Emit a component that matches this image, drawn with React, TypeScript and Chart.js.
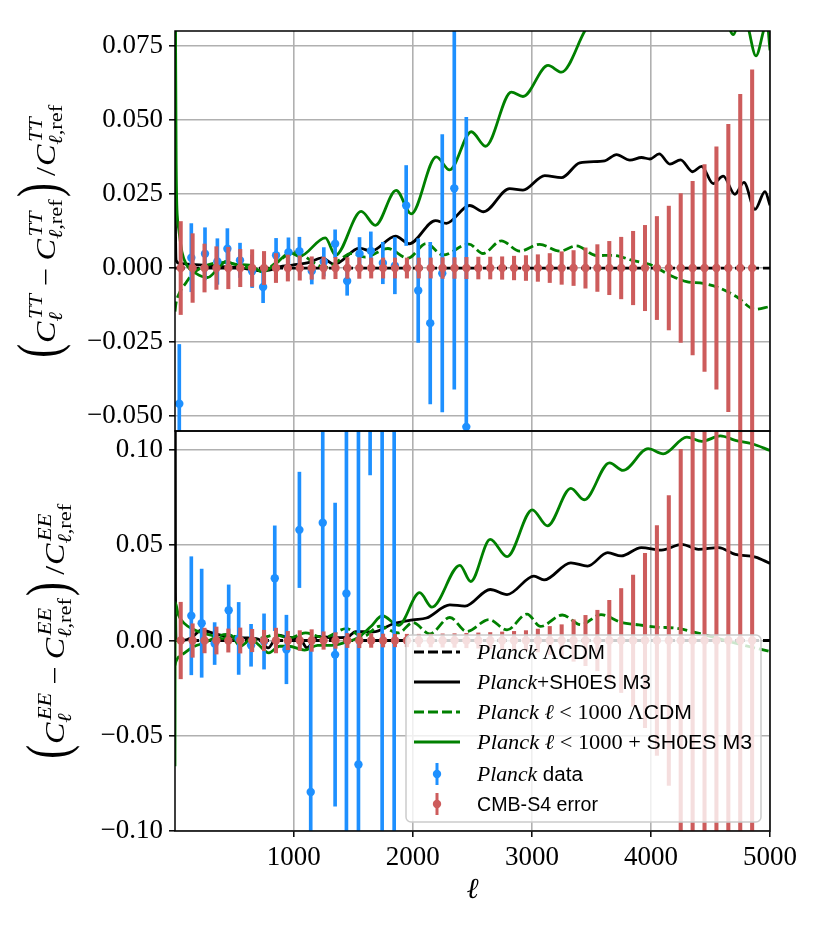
import React, { useEffect, useRef } from "react";
import { Chart, registerables } from "chart.js";

Chart.register(...registerables);

// ---------------- data ----------------
const xTicks = [1000, 2000, 3000, 4000, 5000];
const ttTicks = [-0.05, -0.025, 0, 0.025, 0.05, 0.075];
const eeTicks = [-0.1, -0.05, 0, 0.05, 0.1];

// TT residual curves [ell, value]
const ttPlanckLCDM: [number, number][] = [[2, 0], [5000, 0]];
const ttPlanckM3: [number, number][] = [
  [2, 0.12], [6, 0.015], [12, 0.0025], [38, 0.0016], [234, 0.001], [430, 0.0004], [570, 0.0],
  [710, -0.0009], [794, -0.0007], [878, 0.0004], [990, 0.001], [1131, 0.0019], [1235, 0.0034],
  [1341, 0.0013], [1552, 0.0067], [1650, 0.0057], [1855, 0.0108], [1968, 0.0082], [2190, 0.016],
  [2281, 0.0151], [2477, 0.0211], [2594, 0.019], [2813, 0.0268], [2925, 0.0263], [3108, 0.0312],
  [3248, 0.0305], [3402, 0.0355], [3612, 0.0362], [3711, 0.0383], [3823, 0.0364], [3921, 0.0373],
  [3991, 0.0368], [4069, 0.0385], [4159, 0.0351], [4249, 0.0365], [4350, 0.0325], [4425, 0.0343],
  [4523, 0.0285], [4607, 0.031], [4705, 0.0249], [4781, 0.0289], [4874, 0.0198], [4958, 0.0258],
  [5000, 0.0212],
];
const ttLowLCDM: [number, number][] = [
  [2, -0.0147], [10, -0.012], [38, -0.0085], [94, -0.005], [150, -0.002], [262, 0.0008],
  [417, 0.0019], [543, 0.0009], [650, -0.0003], [735, -0.0011], [823, 0.001], [930, 0.004],
  [995, 0.0055], [1075, 0.0044], [1201, 0.001], [1285, 0.0002], [1383, 0.0027], [1481, 0.0049],
  [1600, 0.0037], [1790, 0.0066], [1958, 0.0033], [2112, 0.0083], [2253, 0.0044], [2470, 0.0081],
  [2589, 0.0049], [2743, 0.0092], [2897, 0.0057], [3066, 0.008], [3234, 0.0057], [3374, 0.0075],
  [3542, 0.0042], [3682, 0.0043], [3851, 0.0025], [3991, 0.0012], [4159, -0.0024], [4299, -0.0046],
  [4440, -0.0052], [4580, -0.0068], [4720, -0.0097], [4874, -0.0139], [5000, -0.013],
];
const ttLowM3: [number, number][] = [
  [2, 0.12], [12, 0.035], [24, 0.016], [32, 0.0135], [60, 0.0055], [100, 0.001], [178, -0.0018],
  [275, -0.0032], [350, -0.0008], [430, 0.0022], [515, 0.0012], [627, 0.001], [735, -0.0013],
  [850, 0.0015], [970, 0.0052], [1047, 0.0039], [1265, 0.0102], [1350, 0.0043], [1566, 0.0191],
  [1685, 0.0144], [1860, 0.0262], [1986, 0.0183], [2197, 0.0375], [2309, 0.0331], [2491, 0.046],
  [2611, 0.0411], [2827, 0.0594], [2925, 0.0579], [3136, 0.0684], [3248, 0.0661], [3444, 0.08],
  [3550, 0.087], [3650, 0.085], [3850, 0.095], [3950, 0.093], [4150, 0.1], [4250, 0.097],
  [4450, 0.1], [4550, 0.093], [4620, 0.086], [4691, 0.0788], [4770, 0.088], [4818, 0.081],
  [4882, 0.0716], [4945, 0.08], [4972, 0.084], [5000, 0.0735],
];

// EE residual curves [ell, value]
const eePlanckLCDM: [number, number][] = [[2, 0], [5000, 0]];
const eePlanckM3: [number, number][] = [
  [2, 0.3], [6, 0.03], [12, 0.0], [60, 0.0], [139, 0.0014], [223, 0.0054], [330, 0.0037],
  [430, 0.0022], [587, 0.0014], [700, 0.0008], [784, -0.0039], [868, 0.0028], [962, 0.0016],
  [1050, 0.0012], [1110, -0.0038], [1204, 0.0022], [1320, 0.0015], [1444, 0.0016], [1520, 0.0047],
  [1668, 0.0045], [1836, 0.0088], [1999, 0.0109], [2114, 0.0118], [2311, 0.0187], [2438, 0.0181],
  [2650, 0.0268], [2791, 0.0241], [3017, 0.0338], [3102, 0.0318], [3327, 0.0408], [3468, 0.0391],
  [3637, 0.0461], [3750, 0.0444], [3919, 0.0488], [4088, 0.0475], [4258, 0.0505], [4399, 0.0479],
  [4568, 0.0488], [4709, 0.0452], [4878, 0.0438], [5000, 0.0405],
];
const eeLowLCDM: [number, number][] = [
  [2, -0.013], [10, -0.011], [83, -0.0065], [167, -0.003], [251, -0.0012], [340, 0.0015],
  [433, 0.0032], [540, 0.0015], [643, 0.0], [740, 0.0015], [850, 0.003], [960, 0.0012],
  [1100, 0.004], [1250, 0.0015], [1440, 0.0062], [1580, 0.002], [1720, 0.0075], [1880, 0.004],
  [2000, 0.0095], [2142, 0.0035], [2311, 0.0121], [2452, 0.0048], [2640, 0.011], [2791, 0.0056],
  [2959, 0.0139], [3073, 0.0074], [3256, 0.0134], [3411, 0.0083], [3580, 0.0136], [3750, 0.0095],
  [3900, 0.0082], [4060, 0.007], [4200, 0.0066], [4286, 0.0056], [4450, 0.003], [4709, -0.0014],
  [5000, -0.0058],
];
const eeLowM3: [number, number][] = [
  [2, -0.066], [4, 0.02], [30, 0.0135], [80, 0.009], [150, 0.006], [230, 0.004], [320, 0.0025],
  [400, 0.001], [470, 0.0028], [550, -0.003], [640, 0.0005], [700, -0.002], [790, -0.0065],
  [880, -0.003], [960, -0.003], [1090, -0.005], [1200, -0.0025], [1320, -0.0025], [1430, -0.001],
  [1540, 0.0015], [1650, 0.0075], [1742, 0.013], [1880, 0.008], [2057, 0.0251], [2160, 0.0175],
  [2395, 0.0395], [2486, 0.031], [2650, 0.0531], [2791, 0.044], [3003, 0.0686], [3130, 0.0602],
  [3327, 0.0799], [3440, 0.0739], [3652, 0.0933], [3765, 0.0893], [3976, 0.1007], [4103, 0.098],
  [4301, 0.1068], [4428, 0.1046], [4583, 0.1074], [4709, 0.1051], [4850, 0.1033], [5000, 0.0998],
];

// Planck binned data
const planckTTEll = [38, 139, 254, 358, 442, 548, 650, 742, 851, 955, 1047, 1151, 1252, 1347, 1448, 1552, 1647, 1748, 1849, 1944, 2045, 2146, 2247, 2348, 2449];
const planckTTVal = [-0.0458, 0.0035, 0.0048, 0.0022, 0.0065, 0.0026, -0.0011, -0.0064, 0.0043, 0.0053, 0.0057, -0.001, 0.0021, 0.0082, -0.0044, 0.0048, 0.0058, 0.0017, 0.0008, 0.0211, -0.0076, -0.0186, -0.0018, 0.0269, -0.0536];
const planckTTErr = [0.02, 0.0115, 0.0088, 0.0077, 0.0068, 0.0058, 0.0055, 0.0053, 0.0057, 0.0049, 0.0047, 0.0044, 0.0048, 0.0047, 0.0048, 0.0055, 0.0064, 0.007, 0.0095, 0.0135, 0.0175, 0.0273, 0.0468, 0.0678, 0.1045];

const planckEEEll = [139, 226, 335, 453, 537, 641, 750, 840, 938, 1047, 1142, 1243, 1347, 1442, 1543, 1641, 1742, 1843];
const planckEEVal = [0.013, 0.0091, -0.0016, 0.0159, 0.0011, -0.0025, -0.0005, 0.0327, -0.0047, 0.0581, -0.0795, 0.0618, -0.0074, 0.0247, -0.0651, 0.19, -0.13, 0.15];
const planckEEErr = [0.031, 0.0284, 0.011, 0.0133, 0.0189, 0.011, 0.0145, 0.0275, 0.018, 0.0303, 0.077, 0.0593, 0.0795, 0.14, 0.19, 0.103, 0.26, 0.3];

// CMB-S4 forecast errors (centred on the reference)
const s4Ell = [50, 150, 250, 350, 450, 550, 650, 750, 850, 950, 1050, 1150, 1250, 1350, 1450, 1550, 1650, 1750, 1850, 1950, 2050, 2150, 2250, 2350, 2450, 2550, 2650, 2750, 2850, 2950, 3050, 3150, 3250, 3350, 3450, 3550, 3650, 3750, 3850, 3950, 4050, 4150, 4250, 4350, 4450, 4550, 4650, 4750, 4850];
const s4ErrTT = [0.0157, 0.0116, 0.0081, 0.0072, 0.007, 0.0063, 0.0062, 0.0056, 0.0049, 0.0044, 0.0041, 0.0038, 0.0037, 0.0036, 0.0035, 0.0035, 0.0034, 0.0034, 0.0034, 0.0034, 0.0034, 0.0034, 0.0035, 0.0035, 0.0036, 0.0037, 0.0037, 0.0038, 0.004, 0.0042, 0.0045, 0.0049, 0.0055, 0.0059, 0.0068, 0.0079, 0.009, 0.0104, 0.0124, 0.0144, 0.0174, 0.0209, 0.0251, 0.0293, 0.0349, 0.0409, 0.0485, 0.0586, 0.0669];
const s4ErrEE = [0.0201, 0.0088, 0.0065, 0.0071, 0.0061, 0.0066, 0.0059, 0.0054, 0.0065, 0.0048, 0.0052, 0.0057, 0.0046, 0.0041, 0.0037, 0.0038, 0.0036, 0.0034, 0.0033, 0.0033, 0.0033, 0.0034, 0.0035, 0.0036, 0.0038, 0.004, 0.0042, 0.0045, 0.0048, 0.0052, 0.006, 0.0074, 0.0083, 0.0109, 0.0132, 0.0159, 0.0211, 0.0273, 0.0344, 0.0458, 0.0603, 0.0761, 0.1004, 0.13, 0.16, 0.2, 0.25, 0.3, 0.36];

// ---------------- styling ----------------
const SERIF = "'Liberation Serif', 'Times New Roman', serif";
const SANS = "'Liberation Sans', Arial, sans-serif";
const BLUE = "#1e90ff";
const RED = "#cd5c5c";
const GREEN = "#008000";
const BLACK = "#000000";
const DASH = [10, 4];
const LW = 2.8;
const DOT_R = 4.2;

const pts = (a: [number, number][]) => a.map(([x, y]) => ({ x, y }));

function lineDs(label: string, arr: [number, number][], color: string, dashed: boolean, yAxisID: string, order: number) {
  return {
    type: "line", label, data: pts(arr), borderColor: color, backgroundColor: color,
    borderWidth: LW, borderDash: dashed ? DASH : [], pointRadius: 0, pointHoverRadius: 0,
    cubicInterpolationMode: "monotone", fill: false, borderJoinStyle: "round",
    xAxisID: "x", yAxisID, order, clip: 0,
  };
}
function barDs(label: string, ell: number[], val: number[], err: number[], color: string, w: number, yAxisID: string, order: number) {
  return {
    type: "bar", label,
    data: ell.map((x, i) => ({ x, y: [val[i] - err[i], val[i] + err[i]] })),
    backgroundColor: color, borderWidth: 0, barThickness: w, grouped: false,
    xAxisID: "x", yAxisID, order, clip: 0,
  };
}
function dotDs(label: string, ell: number[], val: number[], color: string, yAxisID: string, order: number) {
  return {
    type: "scatter", label, data: ell.map((x, i) => ({ x, y: val[i] })),
    pointRadius: DOT_R, pointHoverRadius: DOT_R, pointBackgroundColor: color, pointBorderWidth: 0,
    borderColor: color, backgroundColor: color, showLine: false,
    xAxisID: "x", yAxisID, order, clip: 0,
  };
}

const s4Zero = s4Ell.map(() => 0);

function buildDatasets() {
  return [
    lineDs("Planck ΛCDM", ttPlanckLCDM, BLACK, true, "yTop", 17),
    lineDs("Planck+SH0ES M3", ttPlanckM3, BLACK, false, "yTop", 16),
    lineDs("Planck ℓ < 1000 ΛCDM", ttLowLCDM, GREEN, true, "yTop", 15),
    lineDs("Planck ℓ < 1000 + SH0ES M3", ttLowM3, GREEN, false, "yTop", 14),
    barDs("Planck data", planckTTEll, planckTTVal, planckTTErr, BLUE, 3, "yTop", 13),
    dotDs("Planck data", planckTTEll, planckTTVal, BLUE, "yTop", 12),
    barDs("CMB-S4 error", s4Ell, s4Zero, s4ErrTT, RED, 3.4, "yTop", 11),
    dotDs("CMB-S4 error", s4Ell, s4Zero, RED, "yTop", 10),
    lineDs("Planck ΛCDM", eePlanckLCDM, BLACK, true, "yBot", 7),
    lineDs("Planck+SH0ES M3", eePlanckM3, BLACK, false, "yBot", 6),
    lineDs("Planck ℓ < 1000 ΛCDM", eeLowLCDM, GREEN, true, "yBot", 5),
    lineDs("Planck ℓ < 1000 + SH0ES M3", eeLowM3, GREEN, false, "yBot", 4),
    barDs("Planck data", planckEEEll, planckEEVal, planckEEErr, BLUE, 3, "yBot", 3),
    dotDs("Planck data", planckEEEll, planckEEVal, BLUE, "yBot", 2),
    barDs("CMB-S4 error", s4Ell, s4Zero, s4ErrEE, RED, 3.4, "yBot", 1),
    dotDs("CMB-S4 error", s4Ell, s4Zero, RED, "yBot", 0),
  ];
}

const fmt = (v: number, d: number) => {
  const s = Math.abs(v).toFixed(d);
  return v < -1e-12 ? "\u2212" + s : s;
};

// ---------------- drawing helpers ----------------
type Run = { t: string; f: string };

function runsWidth(ctx: CanvasRenderingContext2D, rs: Run[]) {
  let w = 0;
  for (const r of rs) { ctx.font = r.f; w += ctx.measureText(r.t).width; }
  return w;
}
function drawRuns(ctx: CanvasRenderingContext2D, rs: Run[], x: number, y: number) {
  for (const r of rs) { ctx.font = r.f; ctx.fillText(r.t, x, y); x += ctx.measureText(r.t).width; }
  return x;
}

function drawMathYLabel(ctx: CanvasRenderingContext2D, baseX: number, cy: number, sc: string, F: number, target: number) {
  const S = F * 0.7;
  const iF = `italic ${F}px ${SERIF}`, rF = `${F}px ${SERIF}`;
  const iS = `italic ${S}px ${SERIF}`, rS = `${S}px ${SERIF}`;
  const PX = 1.3;
  const C: any = { k: "run", r: [{ t: "C", f: iF }] };
  const scr1: any = { k: "scr", sup: [{ t: sc, f: iS }], sub: [{ t: "ℓ", f: iS }] };
  const scr2: any = { k: "scr", sup: [{ t: sc, f: iS }], sub: [{ t: "ℓ", f: iS }, { t: ",ref", f: rS }] };
  const items: any[] = [
    { k: "paren", ch: "(" }, C, scr1, { k: "gap", w: 0.22 * F }, { k: "run", r: [{ t: "\u2212", f: rF }] },
    { k: "gap", w: 0.22 * F }, C, scr2, { k: "paren", ch: ")" }, { k: "gap", w: 0.2 * F },
    { k: "run", r: [{ t: "/", f: rF }] }, { k: "gap", w: 0.03 * F }, C, scr2,
  ];
  const wOf = (it: any) => {
    if (it.k === "paren") { ctx.font = rF; return ctx.measureText(it.ch).width * PX + 0.05 * F; }
    if (it.k === "run") return runsWidth(ctx, it.r);
    if (it.k === "scr") return Math.max(runsWidth(ctx, it.sup) + 0.08 * F, runsWidth(ctx, it.sub)) + 0.04 * F;
    return it.w;
  };
  let W = 0;
  for (const it of items) W += wOf(it);
  const hs = target / W;
  ctx.save();
  ctx.translate(baseX, cy);
  ctx.rotate(-Math.PI / 2);
  ctx.scale(hs, 1);
  ctx.fillStyle = "#000";
  ctx.textAlign = "left";
  ctx.textBaseline = "alphabetic";
  let x = -W / 2;
  for (const it of items) {
    const w = wOf(it);
    if (it.k === "paren") {
      ctx.font = rF;
      const m = ctx.measureText(it.ch);
      const asc = m.actualBoundingBoxAscent, desc = m.actualBoundingBoxDescent;
      const top = -1.42 * F, bot = 0.55 * F;
      const sy = (bot - top) / (asc + desc);
      ctx.save();
      ctx.translate(x + 0.025 * F, top + asc * sy);
      ctx.scale(PX, sy);
      ctx.fillText(it.ch, 0, 0);
      ctx.restore();
    } else if (it.k === "run") {
      drawRuns(ctx, it.r, x, 0);
    } else if (it.k === "scr") {
      drawRuns(ctx, it.sup, x + 0.08 * F, -0.45 * F);
      drawRuns(ctx, it.sub, x, 0.24 * F);
    }
    x += w;
  }
  ctx.restore();
}

const LI = `italic 21px ${SERIF}`;
const LR = `21px ${SERIF}`;
const LS = `20px ${SANS}`;
const legendRows: { kind: string; color: string; dash?: boolean; runs: Run[]; target: number }[] = [
  { kind: "line", color: BLACK, dash: true, runs: [{ t: "Planck", f: LI }, { t: " Λ", f: LR }, { t: "CDM", f: LS }], target: 128 },
  { kind: "line", color: BLACK, runs: [{ t: "Planck", f: LI }, { t: "+", f: LR }, { t: "SH0ES M3", f: LS }], target: 174 },
  { kind: "line", color: GREEN, dash: true, runs: [{ t: "Planck ", f: LI }, { t: "ℓ", f: LI }, { t: " < 1000 Λ", f: LR }, { t: "CDM", f: LS }], target: 215 },
  { kind: "line", color: GREEN, runs: [{ t: "Planck ", f: LI }, { t: "ℓ", f: LI }, { t: " < 1000 + ", f: LR }, { t: "SH0ES M3", f: LS }], target: 275 },
  { kind: "err", color: BLUE, runs: [{ t: "Planck", f: LI }, { t: " data", f: LS }], target: 106 },
  { kind: "err", color: RED, runs: [{ t: "CMB-S4 error", f: LS }], target: 121 },
];
const legendRowY = [652, 682, 712, 742, 774, 804];

function drawLegend(ctx: CanvasRenderingContext2D) {
  const x0 = 406, y0 = 635, w = 355, h = 187, r = 5;
  ctx.save();
  ctx.beginPath();
  ctx.moveTo(x0 + r, y0);
  ctx.lineTo(x0 + w - r, y0); ctx.arcTo(x0 + w, y0, x0 + w, y0 + r, r);
  ctx.lineTo(x0 + w, y0 + h - r); ctx.arcTo(x0 + w, y0 + h, x0 + w - r, y0 + h, r);
  ctx.lineTo(x0 + r, y0 + h); ctx.arcTo(x0, y0 + h, x0, y0 + h - r, r);
  ctx.lineTo(x0, y0 + r); ctx.arcTo(x0, y0, x0 + r, y0, r);
  ctx.closePath();
  ctx.fillStyle = "rgba(255,255,255,0.8)";
  ctx.fill();
  ctx.strokeStyle = "#cccccc";
  ctx.lineWidth = 1.5;
  ctx.stroke();

  legendRows.forEach((row, i) => {
    const y = legendRowY[i];
    if (row.kind === "line") {
      ctx.save();
      ctx.strokeStyle = row.color;
      ctx.lineWidth = LW;
      ctx.setLineDash(row.dash ? DASH : []);
      ctx.beginPath();
      ctx.moveTo(414, y); ctx.lineTo(460, y);
      ctx.stroke();
      ctx.restore();
    } else {
      ctx.save();
      ctx.fillStyle = row.color;
      ctx.fillRect(437 - 1.5, y - 11, 3, 22);
      ctx.beginPath();
      ctx.arc(437, y, DOT_R, 0, Math.PI * 2);
      ctx.fill();
      ctx.restore();
    }
    ctx.save();
    ctx.fillStyle = "#000";
    ctx.textAlign = "left";
    ctx.textBaseline = "alphabetic";
    const tw = runsWidth(ctx, row.runs);
    const s = Math.min(1.2, Math.max(0.85, row.target / tw));
    ctx.translate(477, y + 7);
    ctx.scale(s, 1);
    drawRuns(ctx, row.runs, 0, 0);
    ctx.restore();
  });
  ctx.restore();
}

const decorPlugin = {
  id: "decor",
  afterDatasetsDraw(chart: any) {
    const ctx = chart.ctx;
    const { left, right } = chart.chartArea;
    ctx.save();
    ctx.strokeStyle = "#000";
    ctx.lineWidth = 1.5;
    for (const id of ["yTop", "yBot"]) {
      const s = chart.scales[id];
      ctx.strokeRect(left, s.top, right - left, s.bottom - s.top);
    }
    ctx.restore();
  },
  afterDraw(chart: any) {
    const ctx = chart.ctx;
    const top = chart.scales.yTop, bot = chart.scales.yBot;
    drawMathYLabel(ctx, 55, (top.top + top.bottom) / 2, "TT", 28, 255);
    drawMathYLabel(ctx, 64, (bot.top + bot.bottom) / 2, "EE", 28, 257);
    const { left, right } = chart.chartArea;
    ctx.save();
    ctx.fillStyle = "#000";
    ctx.font = `italic 29px ${SERIF}`;
    ctx.textAlign = "center";
    ctx.textBaseline = "alphabetic";
    ctx.fillText("ℓ", (left + right) / 2, 898);
    ctx.restore();
    drawLegend(ctx);
  },
};

const tickFont = { family: SERIF, size: 27 };
const gridOpts = { color: "#b0b0b0", lineWidth: 1.6, tickColor: "#000", tickLength: 6, tickWidth: 1.5, offset: false };

function yScale(min: number, max: number, ticks: number[], digits: number) {
  return {
    type: "linear", position: "left", stack: "panels", stackWeight: 1, min, max,
    beginAtZero: false, offset: false,
    afterFit: (s: any) => { s.width = 175; },
    afterBuildTicks: (s: any) => { s.ticks = ticks.map((v) => ({ value: v })); },
    ticks: { callback: (v: number) => fmt(v, digits), font: tickFont, color: "#000", padding: 6, autoSkip: false },
    grid: gridOpts,
    border: { display: false },
  };
}

export default function App() {
  const ref = useRef<HTMLCanvasElement>(null);
  useEffect(() => {
    document.body.style.margin = "0";
    const chart = new Chart(ref.current as HTMLCanvasElement, {
      type: "line",
      data: { datasets: buildDatasets() as any },
      options: {
        animation: false,
        responsive: false,
        maintainAspectRatio: false,
        events: [],
        layout: { padding: { left: 0, right: 60, top: 31, bottom: 0 } },
        plugins: { legend: { display: false }, tooltip: { enabled: false }, title: { display: false } },
        scales: {
          x: {
            type: "linear", position: "bottom", min: 2, max: 5000, offset: false,
            afterFit: (s: any) => { s.height = 103; },
            afterBuildTicks: (s: any) => { s.ticks = xTicks.map((v) => ({ value: v })); },
            ticks: { callback: (v: number) => String(v), font: tickFont, color: "#000", padding: 5, maxRotation: 0, autoSkip: false },
            grid: gridOpts,
            border: { display: false },
          },
          yBot: yScale(-0.1, 0.11, eeTicks, 2),
          yTop: yScale(-0.055, 0.08, ttTicks, 3),
        } as any,
      },
      plugins: [decorPlugin],
    } as any);
    return () => chart.destroy();
  }, []);
  return <canvas ref={ref} width={830} height={934} style={{ display: "block", width: 830, height: 934 }} />;
}
